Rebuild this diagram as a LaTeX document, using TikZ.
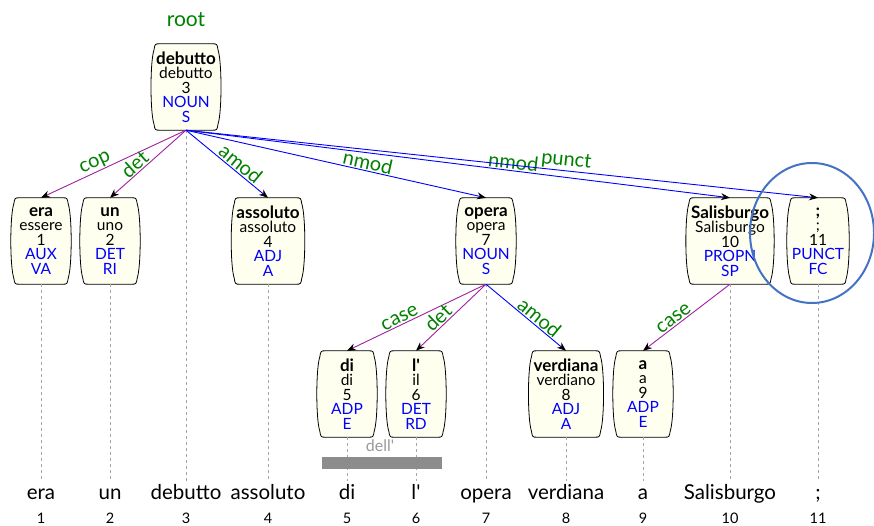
\documentclass[tikz,border=0pt]{standalone}
\usepackage{fontspec}
\setmainfont{Lato}
\usepackage{tikz}
\usetikzlibrary{arrows.meta, positioning, calc, backgrounds}
\definecolor{boxfill}{RGB}{255,255,240}
\definecolor{relgreen}{RGB}{0,128,0}
\definecolor{tagblue}{RGB}{0,0,255}
\definecolor{deppurple}{RGB}{160,32,160}
\definecolor{ringblue}{RGB}{68,114,196}
\newcommand{\apos}{\textquotesingle}
\newcommand{\tok}[5]{{\fontsize{17}{14.5}\selectfont\bfseries #1}\\#2\\#3\\\textcolor{tagblue}{#4}\\\textcolor{tagblue}{#5}}

\tikzset{
  tokbox/.style={align=center, minimum height=86pt, minimum width=52pt,
    inner xsep=1pt, font=\fontsize{15.5}{14.5}\selectfont},
  boxline/.style={draw=black, fill=boxfill, line width=0.8pt},
  dep/.style={line width=0.9pt, -{Stealth[black, length=9pt, width=7pt]}},
  deppur/.style={dep, deppurple},
  depblue/.style={dep, tagblue},
  rel/.style={sloped, above, pos=0.6, inner sep=1pt, text=relgreen,
    font=\fontsize{20}{20}\selectfont},
  guide/.style={gray!70, dashed, line width=0.8pt, shorten >=3pt},
  word/.style={font=\fontsize{20.5}{21}\selectfont, text height=14pt,
    text depth=4pt, inner sep=1pt},
  num/.style={font=\fontsize{14.5}{15}\selectfont}
}

\begin{document}
\begin{tikzpicture}[x=1pt, y=-1pt]
  \useasboundingbox (0,0) rectangle (874,526);

  % Root and head token
  \node[text=relgreen, font=\fontsize{21}{21}\selectfont] (root) at (186,20) {root};
  \node[tokbox] (debutto) at (186,87) {\tok{debutto}{debutto}{3}{NOUN}{S}};

  % First level tokens
  \node[tokbox] (era) at (41,241) {\tok{era}{essere}{1}{AUX}{VA}};
  \node[tokbox] (un) at (110,241) {\tok{un}{uno}{2}{DET}{RI}};
  \node[tokbox] (assoluto) at (268,241) {\tok{assoluto}{assoluto}{4}{ADJ}{A}};
  \node[tokbox] (opera) at (486,241) {\tok{opera}{opera}{7}{NOUN}{S}};
  \node[tokbox] (salis) at (730,241) {\tok{Salisburgo}{Salisburgo}{10}{PROPN}{SP}};
  \node[tokbox] (semi) at (818,241) {\tok{;}{;}{11}{PUNCT}{FC}};

  % Second level tokens
  \node[tokbox] (di) at (347,394) {\tok{di}{di}{5}{ADP}{E}};
  \node[tokbox] (il) at (416,394) {\tok{l\apos}{il}{6}{DET}{RD}};
  \node[tokbox] (verdiana) at (566,394) {\tok{verdiana}{verdiano}{8}{ADJ}{A}};
  \node[tokbox] (a) at (643,394) {\tok{a}{a}{9}{ADP}{E}};

  % Barrel outlines behind the token text
  \begin{scope}[on background layer]
    \foreach \t in {debutto,era,un,assoluto,opera,salis,semi,di,il,verdiana,a}
      \draw[boxline] ($(\t.north west)+(5,0)$) -- ($(\t.north east)+(-5,0)$)
        .. controls (\t.north east) .. ($(\t.north east)+(1,6)$)
        .. controls ($(\t.east)+(5,-25)$) and ($(\t.east)+(5,25)$) .. ($(\t.south east)+(1,-6)$)
        .. controls (\t.south east) .. ($(\t.south east)+(-5,0)$)
        -- ($(\t.south west)+(5,0)$)
        .. controls (\t.south west) .. ($(\t.south west)+(-1,-6)$)
        .. controls ($(\t.west)+(-5,25)$) and ($(\t.west)+(-5,-25)$) .. ($(\t.north west)+(-1,6)$)
        .. controls (\t.north west) .. ($(\t.north west)+(5,0)$) -- cycle;
  \end{scope}

  % Surface words and positions
  \node[word] (w1) at (41,494) {era};
  \node[word] (w2) at (110,494) {un};
  \node[word] (w3) at (186,494) {debutto};
  \node[word] (w4) at (268,494) {assoluto};
  \node[word] (w5) at (347,494) {di};
  \node[word] (w6) at (416,494) {l\apos};
  \node[word] (w7) at (486,494) {opera};
  \node[word] (w8) at (566,494) {verdiana};
  \node[word] (w9) at (643,494) {a};
  \node[word] (w10) at (730,494) {Salisburgo};
  \node[word] (w11) at (818,494) {;};
  \node[num] (n1) at (41,518) {1};
  \node[num] (n2) at (110,518) {2};
  \node[num] (n3) at (186,518) {3};
  \node[num] (n4) at (268,518) {4};
  \node[num] (n5) at (347,518) {5};
  \node[num] (n6) at (416,518) {6};
  \node[num] (n7) at (486,518) {7};
  \node[num] (n8) at (566,518) {8};
  \node[num] (n9) at (643,518) {9};
  \node[num] (n10) at (730,518) {10};
  \node[num] (n11) at (818,518) {11};

  % Guides from tokens down to the words
  \draw[guide] (debutto.south) -- (w3.north);
  \draw[guide] (era.south) -- (w1.north);
  \draw[guide] (un.south) -- (w2.north);
  \draw[guide] (assoluto.south) -- (w4.north);
  \draw[guide] (opera.south) -- (w7.north);
  \draw[guide] (salis.south) -- (w10.north);
  \draw[guide] (semi.south) -- (w11.north);
  \draw[guide] (di.south) -- (w5.north);
  \draw[guide] (il.south) -- (w6.north);
  \draw[guide] (verdiana.south) -- (w8.north);
  \draw[guide] (a.south) -- (w9.north);

  % Multiword token bar
  \fill[black!45] (322,457) rectangle (442,469);
  \node[text=black!40, font=\fontsize{16}{16}\selectfont] (dell) at (380,446) {dell\apos};

  % Dependency arcs
  \draw[deppur] (debutto.south) -- node[rel] {cop} (era.north);
  \draw[deppur] (debutto.south) -- node[rel] {det} (un.north);
  \draw[depblue] (debutto.south) -- node[rel] {amod} (assoluto.north);
  \draw[depblue] (debutto.south) -- node[rel] {nmod} (opera.north);
  \draw[depblue] (debutto.south) -- node[rel] {nmod} (salis.north);
  \draw[depblue] (debutto.south) -- node[rel] {punct} (semi.north);
  \draw[deppur] (opera.south) -- node[rel] {case} (di.north);
  \draw[deppur] (opera.south) -- node[rel] {det} (il.north);
  \draw[depblue] (opera.south) -- node[rel] {amod} (verdiana.north);
  \draw[deppur] (salis.south) -- node[rel] {case} (a.north);

  % Highlight ring
  \draw[ringblue, line width=2pt] (812,233) ellipse [x radius=62pt, y radius=70pt];
\end{tikzpicture}
\end{document}
